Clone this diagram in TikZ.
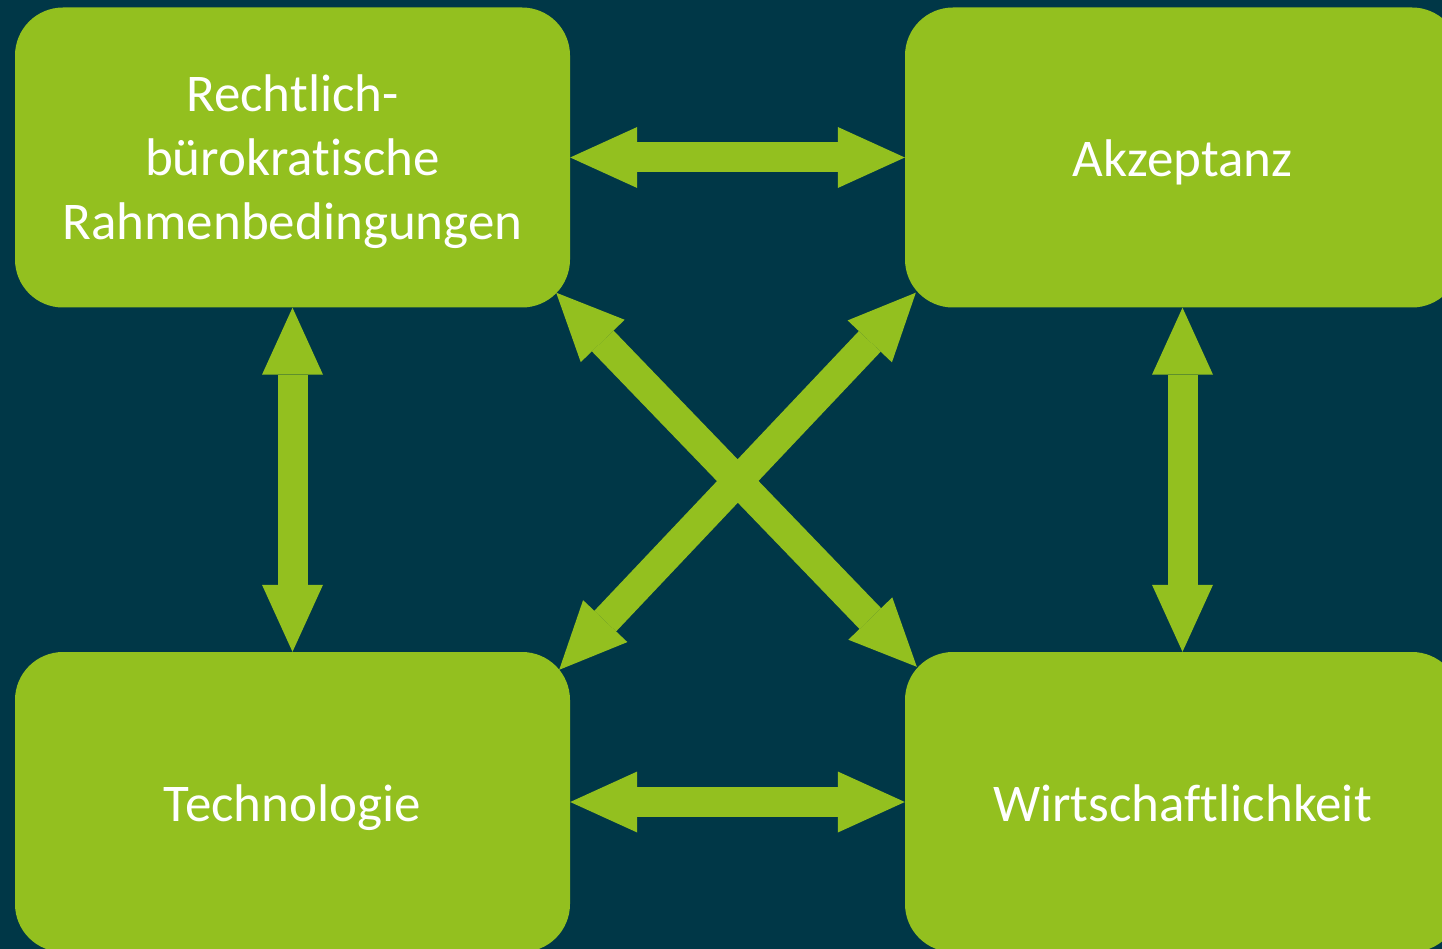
\documentclass[tikz,border=0pt]{standalone}
\usepackage{fontspec}
\setmainfont{Carlito}[Ligatures=NoCommon]
\usetikzlibrary{arrows.meta,calc}
\definecolor{bgteal}{RGB}{0,55,71}
\definecolor{boxgreen}{RGB}{147,192,31}
\begin{document}
\begin{tikzpicture}[x=1pt,y=-1pt,
  greenbox/.style={fill=boxgreen, rounded corners=48pt, minimum width=555pt,
    minimum height=300pt, inner sep=0pt},
  boxtext/.style={anchor=base, inner sep=0pt, text=white, align=center,
    font=\fontsize{53}{64}\selectfont},
  biarrow/.style={draw=boxgreen, line width=30pt,
    {Triangle[length=67pt,width=61pt,line width=0pt]}-{Triangle[length=67pt,width=61pt,line width=0pt]}}
  ]
\useasboundingbox (0,0) rectangle (1442,949);
\fill[bgteal] (0,0) rectangle (1442,949);
\clip (0,0) rectangle (1442,949);
\node[greenbox] (rb) at (292.5,157.5) {};
\node[greenbox] (akz) at (1182.5,157.5) {};
\node[greenbox] (tech) at (292.5,802) {};
\node[greenbox] (wirt) at (1182.5,802) {};
\node[boxtext] (rbt) at ($(rb.center)+(0,82.5)$) {Rechtlich-\\bürokratische\\Rahmenbedingungen};
\node[boxtext] (akzt) at ($(akz.center)+(0,19)$) {Akzeptanz};
\node[boxtext] (techt) at ($(tech.center)+(0,19)$) {Technologie};
\node[boxtext] (wirtt) at ($(wirt.center)+(0,19)$) {Wirtschaftlichkeit};
\coordinate (rbc) at ($(rb.south east)+(-14,-15)$);
\coordinate (wirtc) at ($(wirt.north west)+(12,15)$);
\coordinate (akzc) at ($(akz.south west)+(11,-15)$);
\coordinate (techc) at ($(tech.north east)+(-11,18)$);
\draw[biarrow] (rb.east) -- (akz.west);
\draw[biarrow] (tech.east) -- (wirt.west);
\draw[biarrow] (rb.south) -- (tech.north);
\draw[biarrow] (akz.south) -- (wirt.north);
\draw[biarrow] (rbc) -- (wirtc);
\draw[biarrow] (akzc) -- (techc);
\end{tikzpicture}
\end{document}
